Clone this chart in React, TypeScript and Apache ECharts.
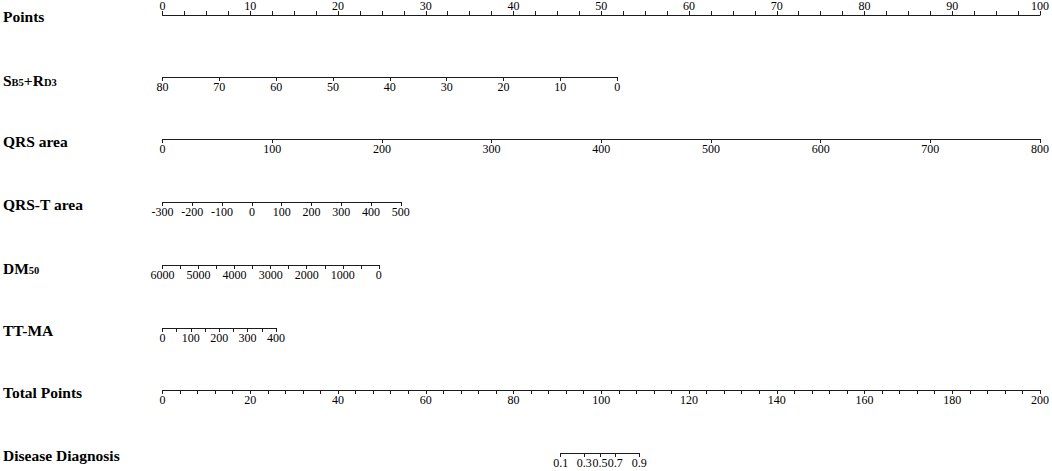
import React, { useEffect, useRef } from 'react';
import * as echarts from 'echarts';

const WIDTH = 1052;
const HEIGHT = 471;

// Row titles (rich-text markup for subscripts)
const rowTitles = [
  '{m|Points}',
  '{m|S}{s|B5}{m|+R}{s|D3}',
  '{m|QRS area}',
  '{m|QRS-T area}',
  '{m|DM}{s|50}',
  '{m|TT-MA}',
  '{m|Total Points}',
  '{m|Disease Diagnosis}',
];

// Points scale (0-100)
const pointsValues = [0, 100];
const pointsInterval = 10;
const pointsMinorSplit = 4; // minor ticks every 2.5

// S_B5 + R_D3 : value range and its points at the two ends
const sb5Values = [80, 0];
const sb5Points = [0, 51.7];
const sb5Interval = 10;

// QRS area
const qrsAreaValues = [0, 800];
const qrsAreaPoints = [0, 100];
const qrsAreaInterval = 100;

// QRS-T area
const qrsTValues = [-300, 500];
const qrsTPoints = [0, 27.1];
const qrsTInterval = 100;

// DM50
const dm50Values = [6000, 0];
const dm50Points = [0, 24.6];
const dm50Interval = 1000;
const dm50MinorSplit = 2;

// TT-MA
const ttmaValues = [0, 400];
const ttmaPoints = [0, 12.9];
const ttmaInterval = 100;
const ttmaMinorSplit = 2;

// Total points (0-200)
const totalValues = [0, 200];
const totalInterval = 20;
const totalMinorSplit = 5; // minor ticks every 4

// Disease diagnosis probabilities and their positions on the total-points scale
const diagnosisLabels = ['0.1', '0.3', '0.5', '0.7', '0.9'];
const diagnosisTotalPoints = [90.55, 95.92, 99.49, 102.97, 108.43];

const FONT = '"Liberation Serif", "Times New Roman", serif';
const LINE_COLOR = '#1c1c1c';

export default function App() {
  const ref = useRef<HTMLDivElement>(null);

  useEffect(() => {
    document.body.style.margin = '0';
    if (!ref.current) return;
    const chart = echarts.init(ref.current, undefined, { renderer: 'svg' });

    const plotLeft = 162.5;
    const plotRight = 10;
    const plotWidth = WIDTH - plotLeft - plotRight;
    const rowTop = 14;
    const rowGap = 62.7;

    type Row = {
      values: number[];
      pointsAt: number[];
      scaleMax: number;
      interval?: number;
      minor?: number;
      top?: boolean;
      custom?: boolean;
    };

    const rows: Row[] = [
      { values: pointsValues, pointsAt: pointsValues, scaleMax: 100, interval: pointsInterval, minor: pointsMinorSplit, top: true },
      { values: sb5Values, pointsAt: sb5Points, scaleMax: 100, interval: sb5Interval },
      { values: qrsAreaValues, pointsAt: qrsAreaPoints, scaleMax: 100, interval: qrsAreaInterval },
      { values: qrsTValues, pointsAt: qrsTPoints, scaleMax: 100, interval: qrsTInterval },
      { values: dm50Values, pointsAt: dm50Points, scaleMax: 100, interval: dm50Interval, minor: dm50MinorSplit },
      { values: ttmaValues, pointsAt: ttmaPoints, scaleMax: 100, interval: ttmaInterval, minor: ttmaMinorSplit },
      { values: totalValues, pointsAt: totalValues, scaleMax: 200, interval: totalInterval, minor: totalMinorSplit },
      {
        values: [diagnosisTotalPoints[0], diagnosisTotalPoints[diagnosisTotalPoints.length - 1]],
        pointsAt: [diagnosisTotalPoints[0], diagnosisTotalPoints[diagnosisTotalPoints.length - 1]],
        scaleMax: 200,
        custom: true,
      },
    ];

    const lineStyle = { color: LINE_COLOR, width: 1 };
    const grids: any[] = [];
    const xAxes: any[] = [];
    const yAxes: any[] = [];
    const graphics: any[] = [];

    rows.forEach((r, i) => {
      const y = Math.round(rowTop + i * rowGap);
      const ppp = plotWidth / r.scaleMax;
      const left = plotLeft + Math.min(...r.pointsAt) * ppp;
      const width = Math.abs(r.pointsAt[1] - r.pointsAt[0]) * ppp;
      grids.push({ left, width, top: r.top ? y : y - 1, height: 1 });
      const axis: any = {
        gridIndex: i,
        type: 'value',
        min: Math.min(...r.values),
        max: Math.max(...r.values),
        inverse: r.values[0] > r.values[1],
        position: r.top ? 'top' : 'bottom',
        axisLine: { show: true, onZero: false, lineStyle },
        axisTick: { show: true, inside: false, length: 4, lineStyle },
        minorTick: { show: !!r.minor, splitNumber: r.minor || 5, length: 4, lineStyle },
        splitLine: { show: false },
        minorSplitLine: { show: false },
        axisLabel: {
          show: true,
          margin: r.top ? 3 : 4,
          fontFamily: FONT,
          fontSize: 12,
          color: '#000',
          showMinLabel: true,
          showMaxLabel: true,
          formatter: (v: number) => String(v),
        },
      };
      if (r.interval) axis.interval = r.interval;
      if (r.custom) {
        axis.axisTick.customValues = diagnosisTotalPoints;
        axis.axisLabel.customValues = diagnosisTotalPoints;
        axis.axisLabel.formatter = (v: number) => {
          const idx = diagnosisTotalPoints.findIndex((t) => Math.abs(t - v) < 1e-6);
          return idx >= 0 ? diagnosisLabels[idx] : '';
        };
      }
      xAxes.push(axis);
      yAxes.push({ gridIndex: i, type: 'value', show: false });

      graphics.push({
        type: 'text',
        x: 3,
        y: y + 2,
        style: {
          text: rowTitles[i],
          verticalAlign: 'middle',
          align: 'left',
          fill: '#000',
          rich: {
            m: { fontFamily: FONT, fontSize: 15.5, fontWeight: 'bold', fill: '#000', verticalAlign: 'bottom' },
            s: { fontFamily: FONT, fontSize: 10.5, fontWeight: 'bold', fill: '#000', verticalAlign: 'top', padding: [7, 0, 0, 0] },
          },
        },
      });
    });

    chart.setOption({
      animation: false,
      backgroundColor: '#fff',
      grid: grids,
      xAxis: xAxes,
      yAxis: yAxes,
      graphic: graphics,
      series: [],
    });

    return () => chart.dispose();
  }, []);

  return <div ref={ref} style={{ width: WIDTH, height: HEIGHT }} />;
}
